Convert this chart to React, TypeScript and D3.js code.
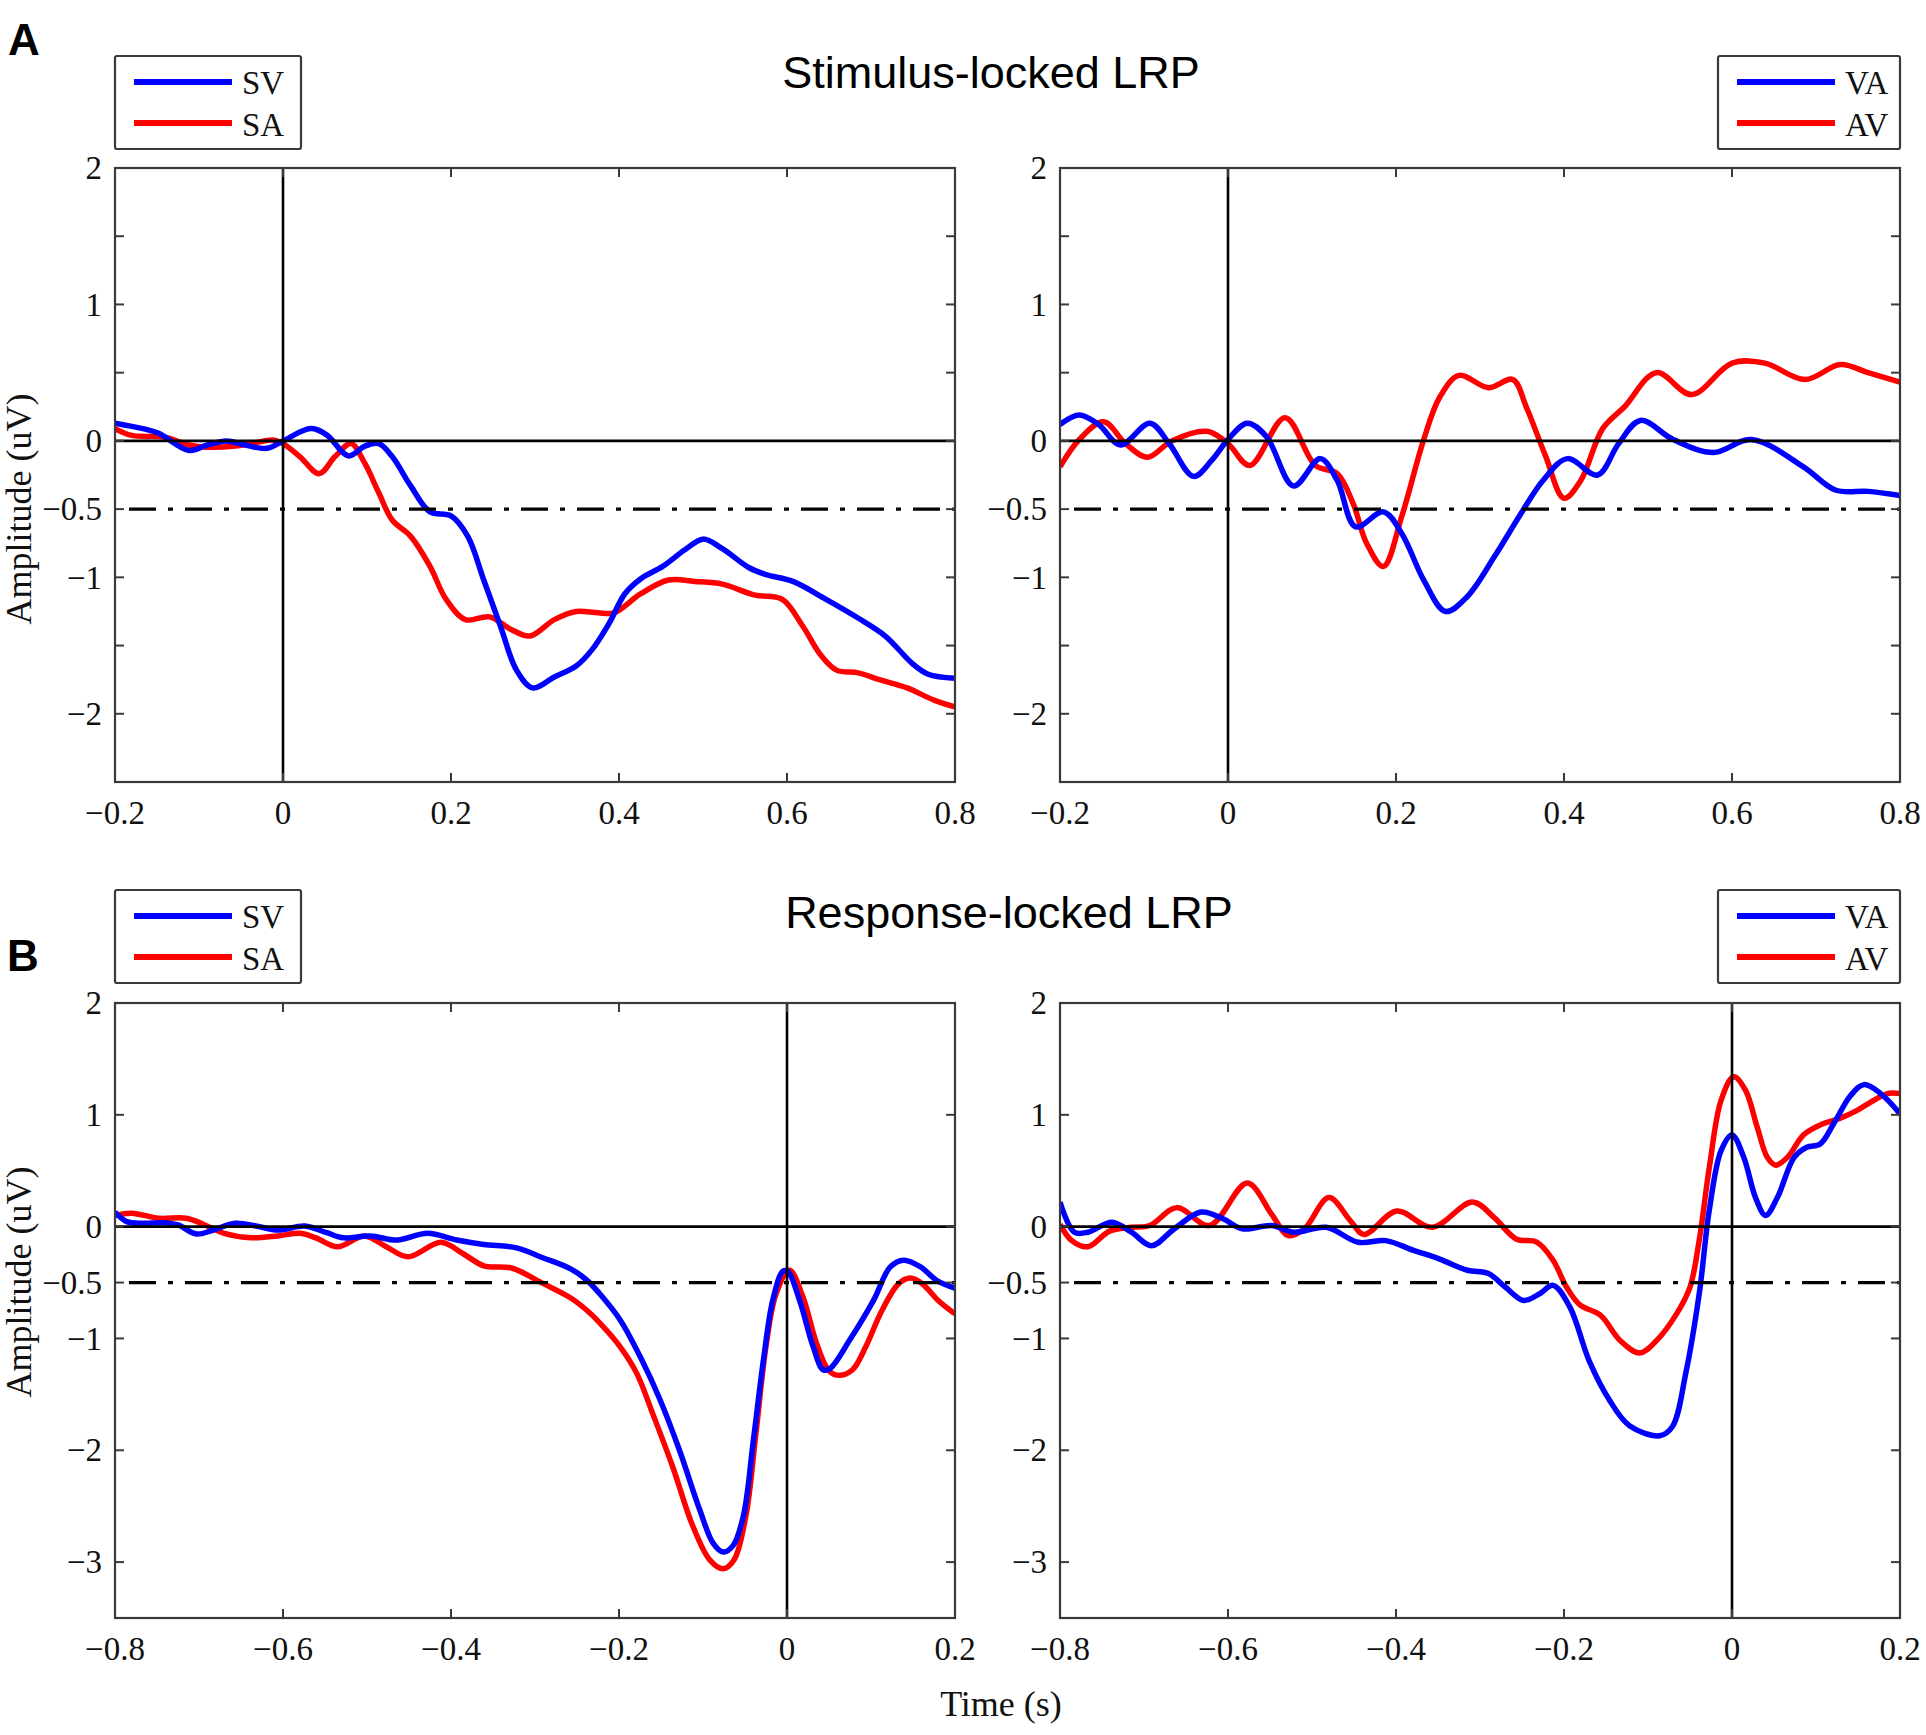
import * as d3 from 'd3'

type Pt = [number, number]

// Stimulus-locked LRP, left panel (time s, amplitude uV)
const stimSV: Pt[] = [
  [-0.2, 0.13], [-0.167, 0.09], [-0.148, 0.056], [-0.112, -0.07], [-0.09, -0.03], [-0.067, 0.0],
  [-0.045, -0.03], [-0.019, -0.054], [0, 0], [0.033, 0.09], [0.052, 0.044], [0.078, -0.11],
  [0.097, -0.04], [0.114, -0.02], [0.13, -0.115], [0.152, -0.33], [0.175, -0.52], [0.2, -0.55],
  [0.22, -0.7], [0.239, -1.02], [0.259, -1.36], [0.278, -1.68], [0.297, -1.81], [0.323, -1.73],
  [0.349, -1.65], [0.368, -1.53], [0.388, -1.34], [0.407, -1.12], [0.426, -1.01], [0.452, -0.92],
  [0.478, -0.8], [0.5, -0.72], [0.523, -0.79], [0.555, -0.93], [0.575, -0.98], [0.607, -1.03],
  [0.646, -1.16], [0.685, -1.3], [0.717, -1.43], [0.749, -1.63], [0.768, -1.71], [0.8, -1.74]
]
const stimSA: Pt[] = [
  [-0.2, 0.09], [-0.18, 0.04], [-0.141, 0.027], [-0.112, -0.03], [-0.09, -0.046], [-0.057, -0.037],
  [-0.032, -0.012], [-0.012, 0.007], [0, -0.02], [0.02, -0.115], [0.043, -0.24], [0.062, -0.115],
  [0.081, -0.02], [0.097, -0.16], [0.114, -0.38], [0.13, -0.58], [0.152, -0.7], [0.175, -0.92],
  [0.194, -1.16], [0.217, -1.31], [0.246, -1.29], [0.271, -1.38], [0.294, -1.43], [0.323, -1.31],
  [0.349, -1.25], [0.375, -1.26], [0.394, -1.26], [0.426, -1.12], [0.459, -1.02], [0.49, -1.03],
  [0.523, -1.05], [0.562, -1.13], [0.594, -1.16], [0.619, -1.36], [0.639, -1.56], [0.659, -1.68],
  [0.685, -1.7], [0.71, -1.75], [0.743, -1.81], [0.775, -1.9], [0.8, -1.95]
]

// Stimulus-locked LRP, right panel
const stimVA: Pt[] = [
  [-0.2, 0.12], [-0.177, 0.19], [-0.154, 0.12], [-0.128, -0.03], [-0.093, 0.13], [-0.07, -0.02],
  [-0.041, -0.26], [-0.019, -0.14], [0, 0.01], [0.023, 0.13], [0.046, 0.03], [0.078, -0.33],
  [0.11, -0.13], [0.13, -0.29], [0.152, -0.63], [0.185, -0.52], [0.207, -0.68], [0.233, -1.02],
  [0.259, -1.25], [0.285, -1.14], [0.317, -0.85], [0.349, -0.53], [0.375, -0.29], [0.404, -0.13],
  [0.44, -0.25], [0.465, -0.02], [0.491, 0.15], [0.53, 0.01], [0.578, -0.085], [0.623, 0.01],
  [0.685, -0.19], [0.723, -0.36], [0.762, -0.37], [0.8, -0.4]
]
const stimAV: Pt[] = [
  [-0.2, -0.19], [-0.177, 0.01], [-0.148, 0.14], [-0.122, -0.02], [-0.096, -0.12], [-0.067, 0.0],
  [-0.025, 0.07], [0, -0.02], [0.026, -0.18], [0.068, 0.17], [0.104, -0.18], [0.13, -0.24],
  [0.149, -0.46], [0.165, -0.75], [0.185, -0.92], [0.207, -0.55], [0.233, 0.01], [0.252, 0.32],
  [0.275, 0.48], [0.31, 0.39], [0.339, 0.45], [0.355, 0.25], [0.378, -0.11], [0.4, -0.42],
  [0.42, -0.29], [0.446, 0.09], [0.472, 0.25], [0.51, 0.5], [0.552, 0.34], [0.6, 0.57],
  [0.639, 0.57], [0.687, 0.45], [0.729, 0.56], [0.762, 0.5], [0.8, 0.43]
]

// Response-locked LRP, left panel
const respSV: Pt[] = [
  [-0.8, 0.13], [-0.786, 0.045], [-0.767, 0.03], [-0.741, 0.035], [-0.725, 0.015], [-0.703, -0.066],
  [-0.683, -0.03], [-0.657, 0.03], [-0.632, 0.006], [-0.606, -0.03], [-0.574, 0.006], [-0.548, -0.054],
  [-0.528, -0.1], [-0.496, -0.083], [-0.464, -0.12], [-0.428, -0.06], [-0.393, -0.12], [-0.361, -0.16],
  [-0.322, -0.19], [-0.29, -0.28], [-0.257, -0.38], [-0.238, -0.48], [-0.223, -0.6], [-0.199, -0.83],
  [-0.175, -1.16], [-0.151, -1.55], [-0.128, -2.0], [-0.104, -2.53], [-0.088, -2.83], [-0.076, -2.91],
  [-0.064, -2.85], [-0.052, -2.59], [-0.04, -1.91], [-0.028, -1.19], [-0.017, -0.66], [-0.005, -0.4],
  [0.001, -0.4], [0.015, -0.66], [0.031, -1.07], [0.043, -1.28], [0.051, -1.27], [0.075, -1.01],
  [0.103, -0.66], [0.123, -0.36], [0.139, -0.3], [0.159, -0.36], [0.178, -0.48], [0.2, -0.55]
]
const respSA: Pt[] = [
  [-0.8, 0.1], [-0.78, 0.12], [-0.748, 0.075], [-0.715, 0.075], [-0.693, 0.015], [-0.67, -0.06],
  [-0.638, -0.1], [-0.606, -0.083], [-0.58, -0.06], [-0.561, -0.1], [-0.535, -0.18], [-0.503, -0.083],
  [-0.477, -0.18], [-0.451, -0.27], [-0.412, -0.14], [-0.386, -0.24], [-0.361, -0.35], [-0.328, -0.37],
  [-0.29, -0.51], [-0.257, -0.64], [-0.238, -0.75], [-0.223, -0.86], [-0.199, -1.07], [-0.179, -1.31],
  [-0.16, -1.67], [-0.136, -2.15], [-0.112, -2.68], [-0.092, -2.98], [-0.076, -3.06], [-0.063, -2.98],
  [-0.049, -2.59], [-0.037, -1.85], [-0.025, -1.07], [-0.013, -0.6], [0.003, -0.39], [0.019, -0.63],
  [0.035, -1.04], [0.05, -1.29], [0.062, -1.33], [0.078, -1.28], [0.094, -1.07], [0.113, -0.75],
  [0.133, -0.51], [0.147, -0.46], [0.161, -0.51], [0.18, -0.66], [0.2, -0.78]
]

// Response-locked LRP, right panel
const respVA: Pt[] = [
  [-0.8, 0.22], [-0.783, -0.05], [-0.767, -0.05], [-0.738, 0.04], [-0.715, -0.05], [-0.691, -0.17],
  [-0.664, -0.02], [-0.632, 0.13], [-0.606, 0.07], [-0.583, -0.02], [-0.548, 0.01], [-0.522, -0.05],
  [-0.483, -0.006], [-0.445, -0.14], [-0.412, -0.125], [-0.38, -0.21], [-0.348, -0.29], [-0.315, -0.39],
  [-0.29, -0.42], [-0.27, -0.54], [-0.248, -0.66], [-0.229, -0.6], [-0.213, -0.525], [-0.193, -0.72],
  [-0.17, -1.2], [-0.146, -1.55], [-0.122, -1.78], [-0.086, -1.87], [-0.071, -1.79], [-0.055, -1.31],
  [-0.039, -0.6], [-0.027, 0.15], [-0.013, 0.68], [0.0, 0.82], [0.014, 0.62], [0.028, 0.26],
  [0.04, 0.1], [0.054, 0.26], [0.074, 0.62], [0.089, 0.71], [0.105, 0.74], [0.121, 0.92],
  [0.141, 1.17], [0.157, 1.27], [0.177, 1.19], [0.2, 1.01]
]
const respAV: Pt[] = [
  [-0.8, 0.02], [-0.786, -0.125], [-0.767, -0.18], [-0.741, -0.04], [-0.715, -0.006], [-0.693, 0.01],
  [-0.661, 0.17], [-0.622, 0.01], [-0.577, 0.39], [-0.548, 0.11], [-0.528, -0.08], [-0.509, -0.02],
  [-0.48, 0.26], [-0.454, 0.05], [-0.438, -0.07], [-0.399, 0.14], [-0.357, -0.006], [-0.309, 0.22],
  [-0.283, 0.08], [-0.257, -0.11], [-0.232, -0.14], [-0.213, -0.3], [-0.197, -0.54], [-0.181, -0.7],
  [-0.157, -0.79], [-0.133, -1.02], [-0.11, -1.13], [-0.09, -1.02], [-0.066, -0.78], [-0.05, -0.54],
  [-0.039, -0.12], [-0.027, 0.53], [-0.013, 1.13], [0.002, 1.34], [0.016, 1.22], [0.03, 0.89],
  [0.042, 0.62], [0.052, 0.55], [0.066, 0.62], [0.085, 0.82], [0.105, 0.91], [0.129, 0.97],
  [0.149, 1.04], [0.169, 1.13], [0.185, 1.19], [0.2, 1.19]
]

const stimTimeTicks = [-0.2, 0, 0.2, 0.4, 0.6, 0.8]
const respTimeTicks = [-0.8, -0.6, -0.4, -0.2, 0, 0.2]
const stimAmpTicks = [-2, -1.5, -1, -0.5, 0, 0.5, 1, 1.5, 2]
const stimAmpLabels = [-2, -1, -0.5, 0, 1, 2]
const respAmpTicks = [-3, -2, -1, -0.5, 0, 1, 2]
const respAmpLabels = [-3, -2, -1, -0.5, 0, 1, 2]

const serif = '"Liberation Serif", "Times New Roman", serif'
const sans = '"Liberation Sans", Arial, sans-serif'
const BLUE = '#0000ff'
const RED = '#ff0000'
const FRAME = '#3a3a3a'

const fmt = (n: number) => (n < 0 ? '\u2212' : '') + String(Math.abs(n))

interface PanelProps {
  id: string
  x0: number
  y0: number
  w: number
  h: number
  xDomain: [number, number]
  yDomain: [number, number]
  xTicks: number[]
  yTicks: number[]
  yLabels: number[]
  blue: Pt[]
  red: Pt[]
}

function Panel({ id, x0, y0, w, h, xDomain, yDomain, xTicks, yTicks, yLabels, blue, red }: PanelProps) {
  const x = d3.scaleLinear(xDomain, [x0, x0 + w])
  const y = d3.scaleLinear(yDomain, [y0 + h, y0])
  const line = d3.line<Pt>()
    .x(d => x(d[0]))
    .y(d => y(d[1]))
    .curve(d3.curveCatmullRom.alpha(0.5))
  const tk = 9

  return (
    <g>
      <defs>
        <clipPath id={id}>
          <rect x={x0} y={y0} width={w} height={h} />
        </clipPath>
      </defs>
      <rect x={x0} y={y0} width={w} height={h} fill="#fff" />
      <g clipPath={`url(#${id})`}>
        <path d={line(red) || ''} fill="none" stroke={RED} strokeWidth={5.5} strokeLinejoin="round" />
        <path d={line(blue) || ''} fill="none" stroke={BLUE} strokeWidth={5.5} strokeLinejoin="round" />
      </g>
      {/* reference lines */}
      <line x1={x0} x2={x0 + w} y1={y(0)} y2={y(0)} stroke="#000" strokeWidth={2.6} />
      <line x1={x(0)} x2={x(0)} y1={y0} y2={y0 + h} stroke="#000" strokeWidth={2.6} />
      <line x1={x0 + 14} x2={x0 + w} y1={y(-0.5)} y2={y(-0.5)} stroke="#000" strokeWidth={3.2}
        strokeDasharray="27 12 5 12" />
      <rect x={x0} y={y0} width={w} height={h} fill="none" stroke={FRAME} strokeWidth={2.2} />
      {xTicks.map(t => (
        <g key={'x' + t}>
          <line x1={x(t)} x2={x(t)} y1={y0 + h} y2={y0 + h - tk} stroke={FRAME} strokeWidth={2} />
          <line x1={x(t)} x2={x(t)} y1={y0} y2={y0 + tk} stroke={FRAME} strokeWidth={2} />
          <text x={x(t)} y={y0 + h + 42} textAnchor="middle" fontFamily={serif} fontSize={33} fill="#111">
            {fmt(t)}
          </text>
        </g>
      ))}
      {yTicks.map(v => (
        <g key={'y' + v}>
          <line x1={x0} x2={x0 + tk} y1={y(v)} y2={y(v)} stroke={FRAME} strokeWidth={2} />
          <line x1={x0 + w} x2={x0 + w - tk} y1={y(v)} y2={y(v)} stroke={FRAME} strokeWidth={2} />
        </g>
      ))}
      {yLabels.map(v => (
        <text key={'yl' + v} x={x0 - 13} y={y(v)} dy="0.34em" textAnchor="end" fontFamily={serif}
          fontSize={33} fill="#111">
          {fmt(v)}
        </text>
      ))}
    </g>
  )
}

function Legend({ x, y, w, labels }: { x: number; y: number; w: number; labels: [string, string] }) {
  return (
    <g>
      <rect x={x} y={y} width={w} height={93} fill="#fff" stroke={FRAME} strokeWidth={2.2} rx={2} />
      <line x1={x + 19} x2={x + 117} y1={y + 26} y2={y + 26} stroke={BLUE} strokeWidth={6} />
      <line x1={x + 19} x2={x + 117} y1={y + 67} y2={y + 67} stroke={RED} strokeWidth={6} />
      <text x={x + 127} y={y + 38} fontFamily={serif} fontSize={33} fill="#111">{labels[0]}</text>
      <text x={x + 127} y={y + 80} fontFamily={serif} fontSize={33} fill="#111">{labels[1]}</text>
    </g>
  )
}

export default function App() {
  const W = 840
  return (
    <div>
      <style>{'body{margin:0}'}</style>
      <svg width={1926} height={1735} style={{ display: 'block', background: '#fff' }}>
        <text x={8} y={55} fontFamily={sans} fontWeight="bold" fontSize={44} fill="#000">A</text>
        <text x={7} y={971} fontFamily={sans} fontWeight="bold" fontSize={44} fill="#000">B</text>

        <text x={991} y={88} textAnchor="middle" fontFamily={sans} fontSize={45} fill="#000">
          Stimulus-locked LRP
        </text>
        <text x={1009} y={928} textAnchor="middle" fontFamily={sans} fontSize={45} fill="#000">
          Response-locked LRP
        </text>

        <Legend x={115} y={56} w={186} labels={['SV', 'SA']} />
        <Legend x={1718} y={56} w={182} labels={['VA', 'AV']} />
        <Legend x={115} y={890} w={186} labels={['SV', 'SA']} />
        <Legend x={1718} y={890} w={182} labels={['VA', 'AV']} />

        <Panel id="c1" x0={115} y0={168} w={W} h={614} xDomain={[-0.2, 0.8]} yDomain={[-2.5, 2]}
          xTicks={stimTimeTicks} yTicks={stimAmpTicks} yLabels={stimAmpLabels} blue={stimSV} red={stimSA} />
        <Panel id="c2" x0={1060} y0={168} w={W} h={614} xDomain={[-0.2, 0.8]} yDomain={[-2.5, 2]}
          xTicks={stimTimeTicks} yTicks={stimAmpTicks} yLabels={stimAmpLabels} blue={stimVA} red={stimAV} />
        <Panel id="c3" x0={115} y0={1003} w={W} h={615} xDomain={[-0.8, 0.2]} yDomain={[-3.5, 2]}
          xTicks={respTimeTicks} yTicks={respAmpTicks} yLabels={respAmpLabels} blue={respSV} red={respSA} />
        <Panel id="c4" x0={1060} y0={1003} w={W} h={615} xDomain={[-0.8, 0.2]} yDomain={[-3.5, 2]}
          xTicks={respTimeTicks} yTicks={respAmpTicks} yLabels={respAmpLabels} blue={respVA} red={respAV} />

        <text transform="translate(31,509) rotate(-90)" textAnchor="middle" fontFamily={serif} fontSize={36}
          fill="#111">Amplitude (uV)</text>
        <text transform="translate(31,1282) rotate(-90)" textAnchor="middle" fontFamily={serif} fontSize={36}
          fill="#111">Amplitude (uV)</text>
        <text x={1001} y={1716} textAnchor="middle" fontFamily={serif} fontSize={36} fill="#111">Time (s)</text>
      </svg>
    </div>
  )
}
